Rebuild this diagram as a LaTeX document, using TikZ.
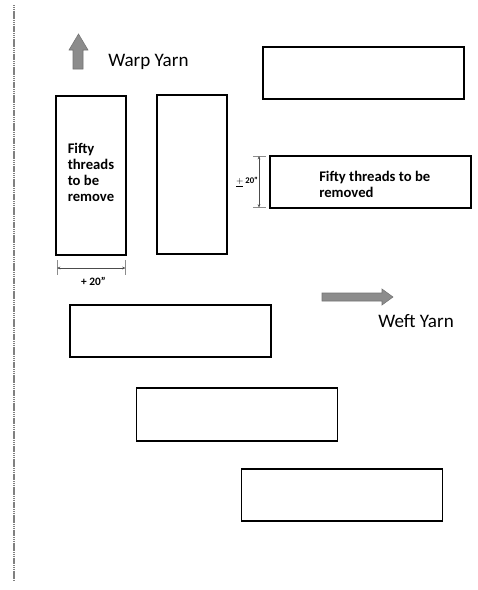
\documentclass[tikz,border=0pt]{standalone}
\usepackage{fontspec}
\setmainfont{Carlito}
\usetikzlibrary{arrows.meta}
\begin{document}
\begin{tikzpicture}[x=0.75pt,y=-0.75pt,
  box/.style={draw=black,line width=1pt,minimum width=#1,inner sep=0pt},
  boxh/.style={minimum height=#1},
  lbl/.style={font=\fontsize{14.3}{16}\selectfont,inner sep=0pt},
  inl/.style={font=\bfseries\fontsize{11}{12}\selectfont,align=left,inner sep=0pt,anchor=west},
  dim/.style={draw=black!70,line width=0.5pt,{Stealth[length=2.5pt,width=2pt]}-{Stealth[length=2.5pt,width=2pt]}},
  tick/.style={draw=black!45,line width=0.5pt},
  fatarrow/.style={fill=black!45,draw=black!55,line width=0.4pt}]
\useasboundingbox (0,0) rectangle (478,590);
\fill[white] (0,0) rectangle (478,590);
% left margin line
\coordinate (mt) at (14,5);
\coordinate (mb) at (14,580);
\draw[black!50,line width=0.8pt,dash pattern=on 1pt off 0.4pt] (mt) -- (mb);
% warp arrow
\draw[fatarrow] (73,69) -- (73,50) -- (69,50) -- (78.5,34) -- (88,50) -- (83,50) -- (83,69) -- cycle;
\node[lbl,anchor=west] (warp) at (108,62) {Warp Yarn};
% left tall rectangles
\node[box=70pt*0.75/0.75,boxh=159*0.75pt,minimum width=70*0.75pt] (r1) at (91,175.5) {};
\node[inl] (t1) at (67.5,172) {Fifty\\threads\\to be\\remove};
\node[box=70*0.75pt,minimum width=70*0.75pt,boxh=159*0.75pt] (r2) at (192,174.5) {};
% horizontal dimension
\coordinate (ha) at (57,268);
\coordinate (hb) at (125.5,268);
\draw[tick] (57,260) -- (57,275);
\draw[tick] (125.5,260) -- (125.5,275);
\draw[dim] (ha) -- (hb);
\node[font=\bfseries\fontsize{8.5}{10}\selectfont,inner sep=0pt] (d1) at (93.5,281) {+ 20”};
% top right rectangle
\node[box=201*0.75pt,minimum width=201*0.75pt,boxh=52*0.75pt] (r3) at (363.5,73) {};
% right rectangle with text
\node[box=201*0.75pt,minimum width=201*0.75pt,boxh=52*0.75pt] (r4) at (370.5,182) {};
\node[inl] (t2) at (319,184.5) {Fifty threads to be\\removed};
% vertical dimension
\coordinate (va) at (259,156);
\coordinate (vb) at (259,207.5);
\draw[tick] (253,156) -- (266,156);
\draw[tick] (253,207.5) -- (266,207.5);
\draw[dim] (va) -- (vb);
\node[font=\bfseries\fontsize{6.5}{7}\selectfont,inner sep=0pt] (d2) at (247,182) {$\underline{+}$ 20”};
% weft arrow
\draw[fatarrow] (322,293) -- (382,293) -- (382,289) -- (393,297) -- (382,305) -- (382,301) -- (322,301) -- cycle;
\node[lbl,anchor=west] (weft) at (378,321) {Weft Yarn};
% lower rectangles
\node[box=201*0.75pt,minimum width=201*0.75pt,boxh=52*0.75pt] (r5) at (170.5,331) {};
\node[box=201*0.75pt,minimum width=201*0.75pt,boxh=53*0.75pt] (r6) at (237,414.5) {};
\node[box=201*0.75pt,minimum width=201*0.75pt,boxh=52*0.75pt] (r7) at (342,495) {};
\end{tikzpicture}
\end{document}
